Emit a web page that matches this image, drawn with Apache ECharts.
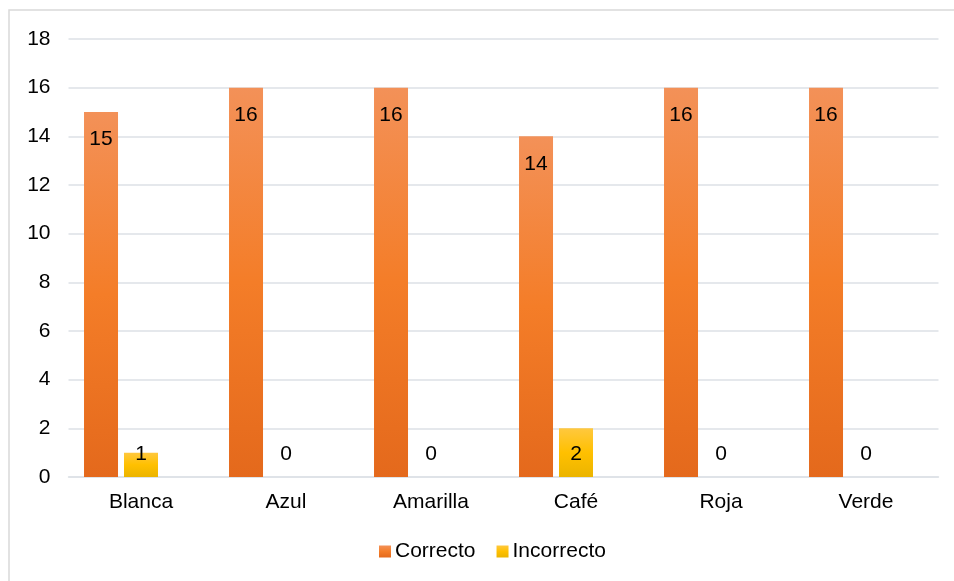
<!DOCTYPE html>
<html>
<head>
<meta charset="utf-8">
<script src="https://cdn.jsdelivr.net/npm/echarts@6/dist/echarts.min.js"></script>
<style>
html,body{margin:0;padding:0;background:#fff;}
#c{width:954px;height:581px;}
</style>
</head>
<body>
<div id="c"></div>
<script>
var categories = ['Blanca', 'Azul', 'Amarilla', 'Café', 'Roja', 'Verde'];
var correcto = [15, 16, 16, 14, 16, 16];
var incorrecto = [1, 0, 0, 2, 0, 0];
var seriesNames = ['Correcto', 'Incorrecto'];
var yTicks = { min: 0, max: 18, interval: 2 };

var font = 'Liberation Sans, Arial, sans-serif';
var fs = 21;
var chart = echarts.init(document.getElementById('c'), null, { renderer: 'canvas' });

var orangeGrad = new echarts.graphic.LinearGradient(0, 0, 0, 1, [
  { offset: 0, color: '#F39158' },
  { offset: 0.5, color: '#F47D28' },
  { offset: 1, color: '#E4691C' }
]);
var yellowGrad = new echarts.graphic.LinearGradient(0, 0, 0, 1, [
  { offset: 0, color: '#FFC83E' },
  { offset: 0.5, color: '#FFC000' },
  { offset: 1, color: '#EBB400' }
]);

chart.setOption({
  backgroundColor: '#ffffff',
  animation: false,
  graphic: [{
    type: 'rect',
    shape: { x: 9, y: 10, width: 960, height: 590 },
    style: { fill: 'none', stroke: '#D9D9D9', lineWidth: 1.5 },
    silent: true
  }],
  grid: { left: 68.5, right: 15.5, top: 39, bottom: 104, containLabel: false },
  legend: {
    data: seriesNames,
    top: 536,
    left: 374,
    itemWidth: 12,
    itemHeight: 12,
    itemGap: 21,
    icon: 'rect',
    textStyle: { fontFamily: font, fontSize: fs, color: '#000', padding: [0, 0, 0, -1] }
  },
  xAxis: {
    type: 'category',
    data: categories,
    axisLine: { show: true, lineStyle: { color: '#DDE1E6', width: 1.5 } },
    axisTick: { show: false },
    axisLabel: { fontFamily: font, fontSize: fs, color: '#000', margin: 15 }
  },
  yAxis: {
    type: 'value',
    min: yTicks.min,
    max: yTicks.max,
    interval: yTicks.interval,
    axisLine: { show: false },
    axisTick: { show: false },
    splitLine: { lineStyle: { color: '#DDE1E6', width: 1.5 } },
    axisLabel: { fontFamily: font, fontSize: fs, color: '#000', margin: 18 }
  },
  series: [
    {
      name: seriesNames[0],
      type: 'bar',
      data: correcto,
      barWidth: 34,
      barGap: '17.6%',
      itemStyle: { color: orangeGrad },
      label: {
        show: true,
        position: 'insideTop',
        distance: 17,
        fontFamily: font,
        fontSize: fs,
        color: '#000'
      }
    },
    {
      name: seriesNames[1],
      type: 'bar',
      data: incorrecto,
      barWidth: 34,
      barGap: '17.6%',
      itemStyle: { color: yellowGrad },
      label: {
        show: true,
        position: 'insideBottom',
        distance: 12,
        fontFamily: font,
        fontSize: fs,
        color: '#000'
      }
    },
    {
      name: '',
      type: 'bar',
      data: categories.map(function () { return '-'; }),
      barWidth: 34,
      barGap: '17.6%'
    }
  ]
});
</script>
</body>
</html>
